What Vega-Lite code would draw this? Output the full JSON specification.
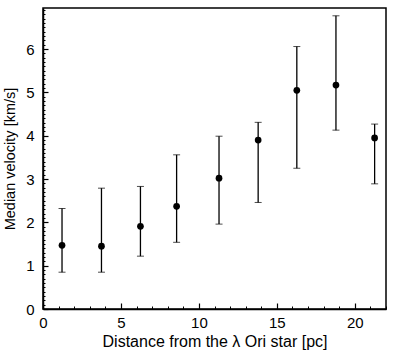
{
  "$schema": "https://vega.github.io/schema/vega-lite/v6.json",
  "autosize": "none",
  "width": 343,
  "height": 301,
  "padding": {"left": 43, "top": 8, "right": 11, "bottom": 45},
  "background": "white",
  "config": {
    "font": "Liberation Sans",
    "view": {"stroke": "black", "strokeWidth": 1.5},
    "axis": {
      "domainColor": "black",
      "domainWidth": 1.5,
      "tickColor": "black",
      "labelColor": "black",
      "titleColor": "black",
      "grid": false,
      "labelFont": "Liberation Sans",
      "titleFont": "Liberation Sans",
      "labelFontSize": 15,
      "titleFontSize": 14.5,
      "titleFontWeight": "normal",
      "labelOverlap": false,
      "labelBound": false,
      "labelFlush": false
    }
  },
  "resolve": {"axis": {"x": "independent", "y": "independent"}},
  "data": {
    "values": [
      {"d": 1.22, "v": 1.47, "lo": 0.85, "hi": 2.32},
      {"d": 3.75, "v": 1.45, "lo": 0.85, "hi": 2.79},
      {"d": 6.25, "v": 1.91, "lo": 1.22, "hi": 2.83},
      {"d": 8.57, "v": 2.37, "lo": 1.54, "hi": 3.56},
      {"d": 11.29, "v": 3.02, "lo": 1.96, "hi": 3.99},
      {"d": 13.8, "v": 3.9, "lo": 2.46, "hi": 4.31},
      {"d": 16.28, "v": 5.05, "lo": 3.25, "hi": 6.06},
      {"d": 18.79, "v": 5.17, "lo": 4.13, "hi": 6.77},
      {"d": 21.27, "v": 3.95, "lo": 2.89, "hi": 4.27}
    ]
  },
  "layer": [
    {
      "mark": {"type": "errorbar", "ticks": {"size": 7, "color": "black", "strokeWidth": 1.3}, "rule": {"color": "black", "strokeWidth": 1.3}},
      "encoding": {
        "x": {
          "field": "d", "type": "quantitative",
          "scale": {"domain": [0, 22], "nice": false},
          "title": "Distance from the λ Ori star [pc]",
          "axis": {
            "orient": "bottom",
            "values": [0, 5, 10, 15, 20],
            "tickSize": -6,
            "tickWidth": 1.2,
            "labelPadding": 12,
            "labelOverlap": false,
            "titlePadding": 3,
            "titleFontSize": 16
          }
        },
        "y": {
          "field": "lo", "type": "quantitative",
          "scale": {"domain": [0, 6.95], "nice": false},
          "title": "Median velocity [km/s]",
          "axis": {
            "orient": "left",
            "values": [0, 1, 2, 3, 4, 5, 6],
            "tickSize": -5,
            "tickWidth": 1.2,
            "labelPadding": 14,
            "labelOverlap": false,
            "titlePadding": 8
          }
        },
        "y2": {"field": "hi"}
      }
    },
    {
      "mark": {"type": "point", "filled": true, "color": "black", "size": 45, "opacity": 1},
      "encoding": {
        "x": {
          "field": "d", "type": "quantitative",
          "axis": {
            "orient": "bottom",
            "values": [1,2,3,4,6,7,8,9,11,12,13,14,16,17,18,19,21,22],
            "tickSize": -3,
            "labels": false,
            "domain": false,
            "title": null
          }
        },
        "y": {
          "field": "v", "type": "quantitative",
          "axis": {
            "orient": "left",
            "values": [0.1,0.2,0.3,0.4,0.5,0.6,0.7,0.8,0.9,1.1,1.2,1.3,1.4,1.5,1.6,1.7,1.8,1.9,2.1,2.2,2.3,2.4,2.5,2.6,2.7,2.8,2.9,3.1,3.2,3.3,3.4,3.5,3.6,3.7,3.8,3.9,4.1,4.2,4.3,4.4,4.5,4.6,4.7,4.8,4.9,5.1,5.2,5.3,5.4,5.5,5.6,5.7,5.8,5.9,6.1,6.2,6.3,6.4,6.5,6.6,6.7,6.8,6.9],
            "tickSize": -2,
            "labels": false,
            "domain": false,
            "title": null
          }
        }
      }
    }
  ]
}
